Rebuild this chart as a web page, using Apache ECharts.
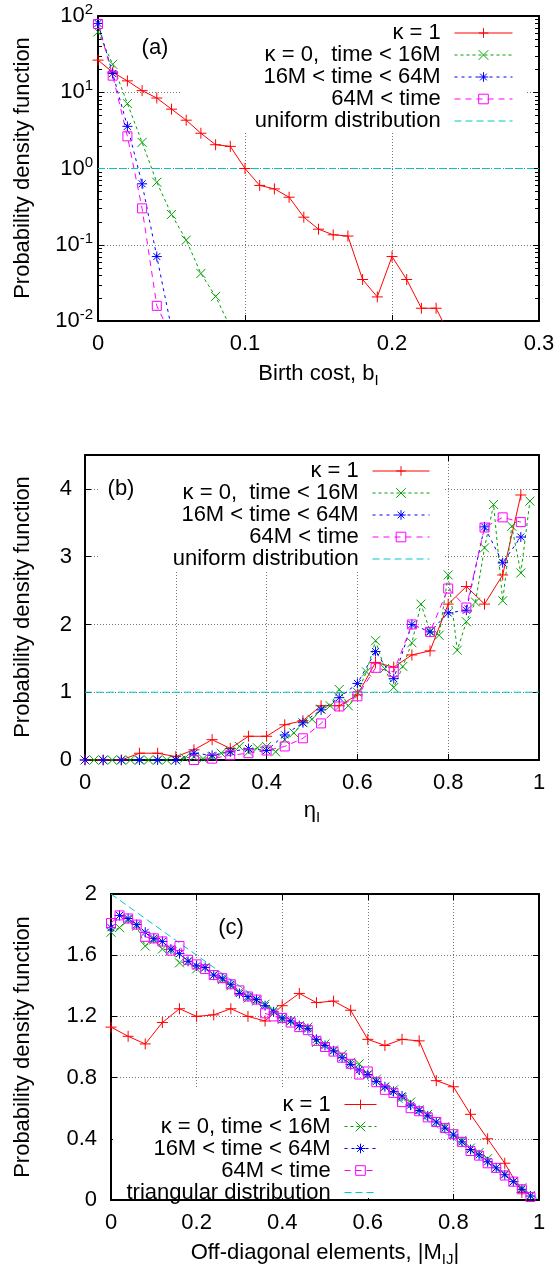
<!DOCTYPE html>
<html><head><meta charset="utf-8">
<script src="https://cdn.jsdelivr.net/npm/echarts@6/dist/echarts.min.js"></script>
<style>html,body{margin:0;padding:0;background:#fff}#c{width:557px;height:1275px}</style>
</head><body><div id="c"></div>
<script>
// ---------------- data ----------------
// Panel (a): birth cost
const costX = [0,0.01,0.02,0.03,0.04,0.05,0.06,0.07,0.08,0.09,0.10,0.11,0.12,0.13,0.14,0.15,0.16,0.17,0.18,0.19,0.20,0.21,0.22,0.23,0.24];
const costKappa1 = [26.4,18.3,14.1,10.5,8.4,6.0,4.3,2.9,2.05,1.95,1.0,0.6,0.54,0.42,0.23,0.16,0.135,0.13,0.035,0.0207,0.07,0.035,0.0147,0.0147,0.006];
const costEarly = [62,23.3,7.1,2.2,0.66,0.25,0.115,0.042,0.021,0.0083];
const costMid = [80,17.6,3.57,0.63,0.07,0.008];
const costLate = [78.5,16.5,2.64,0.30,0.0158,0.0063];
const costUniformX = [0,0.3];
const costUniformY = [1,1];
const logMinorTicks = [0.02,0.03,0.04,0.05,0.06,0.07,0.08,0.09,0.2,0.3,0.4,0.5,0.6,0.7,0.8,0.9,2,3,4,5,6,7,8,9,20,30,40,50,60,70,80,90];

// Panel (b): eta
const etaX04 = [0,0.04,0.08,0.12,0.16,0.20,0.24,0.28,0.32,0.36,0.40,0.44,0.48,0.52,0.56,0.60,0.64,0.68,0.72,0.76,0.80,0.84,0.88,0.92,0.96];
const etaX02 = [0,0.02,0.04,0.06,0.08,0.10,0.12,0.14,0.16,0.18,0.20,0.22,0.24,0.26,0.28,0.30,0.32,0.34,0.36,0.38,0.40,0.42,0.44,0.46,0.48,0.50,0.52,0.54,0.56,0.58,0.60,0.62,0.64,0.66,0.68,0.70,0.72,0.74,0.76,0.78,0.80,0.82,0.84,0.86,0.88,0.90,0.92,0.94,0.96,0.98];
const etaKappa1 = [0,0,0,0.1,0.1,0.05,0.15,0.3,0.17,0.35,0.35,0.52,0.58,0.8,0.8,0.96,1.44,1.37,1.55,1.61,2.30,2.56,2.30,2.73,3.91];
const etaEarly = [0,0,0,0,0,0,0,0,0,0,0,0.03,0.05,0.02,0.05,0.1,0.13,0.2,0.12,0.18,0.2,0.12,0.3,0.4,0.55,0.6,0.75,0.8,1.04,0.8,1.0,1.3,1.76,1.35,1.07,1.38,1.73,2.30,1.9,1.84,2.73,1.62,2.04,2.33,3.13,3.77,2.35,3.45,2.76,3.82];
const etaMid = [0,0,0,0,0,0,0.1,0.07,0.12,0.17,0.14,0.37,0.55,0.74,0.92,1.13,1.60,1.2,2.0,1.89,2.17,2.21,3.44,2.91,3.29];
const etaLateX = [0.24,0.28,0.32,0.36,0.40,0.44,0.48,0.52,0.56,0.60,0.64,0.68,0.72,0.76,0.80,0.84,0.88,0.92,0.96];
const etaLate = [0,0.02,0.07,0.1,0.14,0.2,0.32,0.54,0.79,0.94,1.36,1.3,2.0,1.89,2.53,2.25,3.43,3.58,3.51];
const etaUniformX = [0,1];
const etaUniformY = [1,1];

// Panel (c): off-diagonal elements
const offX04 = [0,0.04,0.08,0.12,0.16,0.20,0.24,0.28,0.32,0.36,0.40,0.44,0.48,0.52,0.56,0.60,0.64,0.68,0.72,0.76,0.80,0.84,0.88,0.92,0.96];
const offX02 = [0,0.02,0.04,0.06,0.08,0.10,0.12,0.14,0.16,0.18,0.20,0.22,0.24,0.26,0.28,0.30,0.32,0.34,0.36,0.38,0.40,0.42,0.44,0.46,0.48,0.50,0.52,0.54,0.56,0.58,0.60,0.62,0.64,0.66,0.68,0.70,0.72,0.74,0.76,0.78,0.80,0.82,0.84,0.86,0.88,0.90,0.92,0.94,0.96,0.98];
const offKappa1 = [1.13,1.07,1.02,1.16,1.25,1.20,1.21,1.25,1.20,1.17,1.27,1.35,1.29,1.30,1.24,1.05,1.01,1.05,1.04,0.78,0.74,0.56,0.40,0.24,0.05];
const offEarly = [1.75,1.78,1.83,1.79,1.66,1.70,1.64,1.63,1.55,1.56,1.51,1.52,1.47,1.44,1.40,1.36,1.32,1.30,1.28,1.24,1.18,1.17,1.14,1.13,1.03,1.02,0.98,0.95,0.90,0.89,0.82,0.79,0.74,0.72,0.67,0.64,0.59,0.56,0.51,0.48,0.43,0.39,0.34,0.31,0.27,0.21,0.17,0.12,0.08,0.03];
const offMid = [1.78,1.86,1.84,1.80,1.75,1.71,1.69,1.64,1.61,1.56,1.53,1.52,1.47,1.45,1.41,1.35,1.33,1.31,1.27,1.23,1.19,1.17,1.14,1.12,1.05,1.01,0.975,0.93,0.885,0.85,0.82,0.775,0.74,0.71,0.68,0.62,0.585,0.55,0.51,0.47,0.425,0.38,0.33,0.295,0.25,0.21,0.165,0.12,0.07,0.026];
const offLate = [1.81,1.86,1.84,1.80,1.72,1.71,1.69,1.63,1.66,1.57,1.54,1.51,1.47,1.45,1.41,1.37,1.33,1.31,1.22,1.20,1.19,1.16,1.13,1.11,1.04,1.0,0.97,0.93,0.89,0.82,0.84,0.77,0.72,0.70,0.64,0.60,0.58,0.54,0.51,0.47,0.43,0.38,0.32,0.29,0.24,0.21,0.16,0.12,0.07,0.02];
const offTriX = [0,1];
const offTriY = [2,0];

// ---------------- names ----------------
const N_K1 = 'κ = 1';
const N_EARLY = 'κ = 0,  time < 16M';
const N_EARLY_C = 'κ = 0, time < 16M';
const N_MID = '16M < time < 64M';
const N_LATE = '64M < time';
const N_UNI = 'uniform distribution';
const N_TRI = 'triangular distribution';

// ---------------- styles ----------------
const FONT = 'Liberation Sans';
const FS = 22;
const PLUS = 'path://M0,5L10,5M5,0L5,10';
const CROSS = 'path://M0,0L10,10M10,0L0,10';
const STAR = 'path://M0,5L10,5M5,0L5,10M1.5,1.5L8.5,8.5M8.5,1.5L1.5,8.5';
const SQUARE = 'path://M0,0L10,0L10,10L0,10Z';
const STY = {
  k1:   {color:'#ff0000', symbol:PLUS,   size:11, dash:'solid'},
  early:{color:'#00a000', symbol:CROSS,  size:9,  dash:[3,3]},
  mid:  {color:'#0000ff', symbol:STAR,   size:10, dash:[3,4]},
  late: {color:'#ff00ff', symbol:SQUARE, size:9,  dash:[6,5], hollow:true},
  uni:  {color:'#00c8c8', symbol:'none', size:0,  dash:[7,4], hollow:true, noBorder:true}
};
function pairs(xs, ys){ return ys.map((y,i)=>[xs[i], y]); }
function mkSeries(name, key, panel, data){
  const s = STY[key];
  return {
    type:'line', name, xAxisIndex:2*panel, yAxisIndex:2*panel, data,
    symbol:s.symbol, symbolSize:s.size, showSymbol: s.symbol !== 'none',
    clip:true, animation:false, silent:true,
    lineStyle:{color:s.color, width:1, type:s.dash},
    itemStyle:{color: s.hollow ? 'rgba(0,0,0,0)' : s.color,
               borderColor: s.noBorder ? 'rgba(0,0,0,0)' : s.color, borderWidth: s.noBorder ? 0 : 1},
    emphasis:{disabled:true}
  };
}
const gridLine = {show:true, lineStyle:{color:'#777', width:1, type:[1,2]}};
function mkX(gi, min, max, interval, main){
  return {
    type:'value', gridIndex:gi, position: main ? 'bottom' : 'top', min, max, interval,
    axisLine:{show:true, onZero:false, lineStyle:{color:'#000', width:2}},
    axisTick:{show:true, inside:true, length:6, lineStyle:{color:'#000', width:1}},
    axisLabel:{show:main, margin:12, color:'#000', fontSize:FS, fontFamily:FONT, showMinLabel:true, showMaxLabel:true},
    splitLine: main ? gridLine : {show:false},
    minorTick:{show:false}
  };
}
function mkY(gi, min, max, interval, main, margin, showMax){
  return {
    type:'value', gridIndex:gi, position: main ? 'left' : 'right', min, max, interval,
    axisLine:{show:true, onZero:false, lineStyle:{color:'#000', width:2}},
    axisTick:{show:true, inside:true, length:6, lineStyle:{color:'#000', width:1}},
    axisLabel:{show:main, margin:margin, color:'#000', fontSize:FS, fontFamily:FONT, showMinLabel:true, showMaxLabel:showMax},
    splitLine: main ? gridLine : {show:false},
    minorTick:{show:false}
  };
}
function mkLogY(main){
  return {
    type:'log', logBase:10, gridIndex:0, position: main ? 'left' : 'right', min:0.01, max:100,
    axisLine:{show:true, onZero:false, lineStyle:{color:'#000', width:2}},
    axisTick:{show:true, inside:true, length:6, lineStyle:{color:'#000', width:1}},
    axisLabel: main ? {
      show:true, margin:5, color:'#000', fontFamily:FONT, showMinLabel:true, showMaxLabel:true,
      formatter: v => '{m|10}{s|' + Math.round(Math.log10(v)) + '}',
      rich:{
        m:{fontSize:FS, lineHeight:22, fontFamily:FONT, color:'#000', verticalAlign:'middle'},
        s:{fontSize:15, lineHeight:15, padding:[0,0,12,0], fontFamily:FONT, color:'#000', verticalAlign:'middle'}
      }
    } : {show:false},
    splitLine: main ? gridLine : {show:false},
    minorTick:{show:false}
  };
}

function legendFor(names, right, top, itemWidth, lineHeight){
  return {
    show:true, orient:'vertical', align:'right', right, top, padding:0,
    itemWidth, itemHeight:12, itemGap:0, selectedMode:false,
    data:names,
    formatter: n => n + '\u2009\u2009',
    textStyle:{fontSize:FS, fontFamily:FONT, color:'#000', lineHeight},
    lineStyle:{width:1},
    itemStyle:{borderWidth:1}
  };
}
const subRich = {
  s:{fontSize:15, lineHeight:15, padding:[14,0,0,0], fontFamily:FONT, fill:'#000', verticalAlign:'middle'}
};
function txt(x, y, text, extra){
  return Object.assign({type:'text', x, y, z:5, silent:true,
    style:{text, fontSize:FS, lineHeight:22, fontFamily:FONT, fill:'#000', align:'center', verticalAlign:'middle', rich:subRich}}, extra || {});
}

const option = {
  animation:false,
  backgroundColor:'#fff',
  grid:[
    {left:98, top:16, width:441, height:305, outerBoundsMode:'none', containLabel:false},
    {left:85, top:455, width:454, height:305, outerBoundsMode:'none', containLabel:false},
    {left:111, top:894, width:428, height:306, outerBoundsMode:'none', containLabel:false}
  ],
  xAxis:[
    mkX(0, 0, 0.3, 0.1, true), mkX(0, 0, 0.3, 0.1, false),
    mkX(1, 0, 1, 0.2, true), mkX(1, 0, 1, 0.2, false),
    mkX(2, 0, 1, 0.2, true), mkX(2, 0, 1, 0.2, false)
  ],
  yAxis:[
    mkLogY(true), mkLogY(false),
    mkY(1, 0, 4.5, 1, true, 13, false), mkY(1, 0, 4.5, 1, false, 13, false),
    mkY(2, 0, 2, 0.4, true, 14, true), mkY(2, 0, 2, 0.4, false, 14, true)
  ],
  legend:[
    legendFor([N_K1, N_EARLY, N_MID, N_LATE, N_UNI], 44, 22, 58, 21.5),
    legendFor([N_K1, N_EARLY, N_MID, N_LATE, N_UNI], 127, 460, 57, 21.75),
    legendFor([N_K1, N_EARLY_C, N_MID, N_LATE, N_TRI], 180, 1093.5, 32, 19.6)
  ],
  graphic:[
    {type:'rect', z:1, silent:true, shape:{x:180, y:17, width:345, height:114}, style:{fill:'#fff'}},
    {type:'rect', z:1, silent:true, shape:{x:100, y:456, width:344, height:114}, style:{fill:'#fff'}},
    {type:'rect', z:1, silent:true, shape:{x:113, y:1089, width:275, height:109}, style:{fill:'#fff'}},
    txt(155, 48, '(a)'), txt(121, 489, '(b)'), txt(231, 928, '(c)'),
    txt(23, 168, 'Probability density function', {rotation:Math.PI/2}),
    txt(23, 607, 'Probability density function', {rotation:Math.PI/2}),
    txt(23, 1047, 'Probability density function', {rotation:Math.PI/2}),
    txt(318.5, 374, 'Birth cost, b{s|I}'),
    txt(312, 811, 'η{s|I}'),
    txt(325, 1253, 'Off-diagonal elements, |M{s|IJ}|')
  ],
  series:[
    mkSeries(N_K1, 'k1', 0, pairs(costX, costKappa1)),
    mkSeries(N_EARLY, 'early', 0, pairs(costX, costEarly)),
    mkSeries(N_MID, 'mid', 0, pairs(costX, costMid)),
    mkSeries(N_LATE, 'late', 0, pairs(costX, costLate)),
    mkSeries(N_UNI, 'uni', 0, pairs(costUniformX, costUniformY)),
    {
      type:'custom', xAxisIndex:0, yAxisIndex:0, silent:true, clip:false, z:3,
      data: logMinorTicks.map(v => [0, v]),
      renderItem: (params, api) => {
        const v = api.value(1);
        const l = api.coord([0, v]);
        const r = api.coord([0.3, v]);
        const yy = Math.round(l[1]) + 0.5;
        return {type:'group', children:[
          {type:'line', shape:{x1:l[0], y1:yy, x2:l[0]+4, y2:yy}, style:{stroke:'#000', lineWidth:1}},
          {type:'line', shape:{x1:r[0]-4, y1:yy, x2:r[0], y2:yy}, style:{stroke:'#000', lineWidth:1}}
        ]};
      }
    },
    mkSeries(N_K1, 'k1', 1, pairs(etaX04, etaKappa1)),
    mkSeries(N_EARLY, 'early', 1, pairs(etaX02, etaEarly)),
    mkSeries(N_MID, 'mid', 1, pairs(etaX04, etaMid)),
    mkSeries(N_LATE, 'late', 1, pairs(etaLateX, etaLate)),
    mkSeries(N_UNI, 'uni', 1, pairs(etaUniformX, etaUniformY)),
    mkSeries(N_K1, 'k1', 2, pairs(offX04, offKappa1)),
    mkSeries(N_EARLY_C, 'early', 2, pairs(offX02, offEarly)),
    mkSeries(N_MID, 'mid', 2, pairs(offX02, offMid)),
    mkSeries(N_LATE, 'late', 2, pairs(offX02, offLate)),
    mkSeries(N_TRI, 'uni', 2, pairs(offTriX, offTriY))
  ]
};
const chart = echarts.init(document.getElementById('c'), null, {renderer:'canvas', width:557, height:1275});
chart.setOption(option);
</script>
</body></html>
